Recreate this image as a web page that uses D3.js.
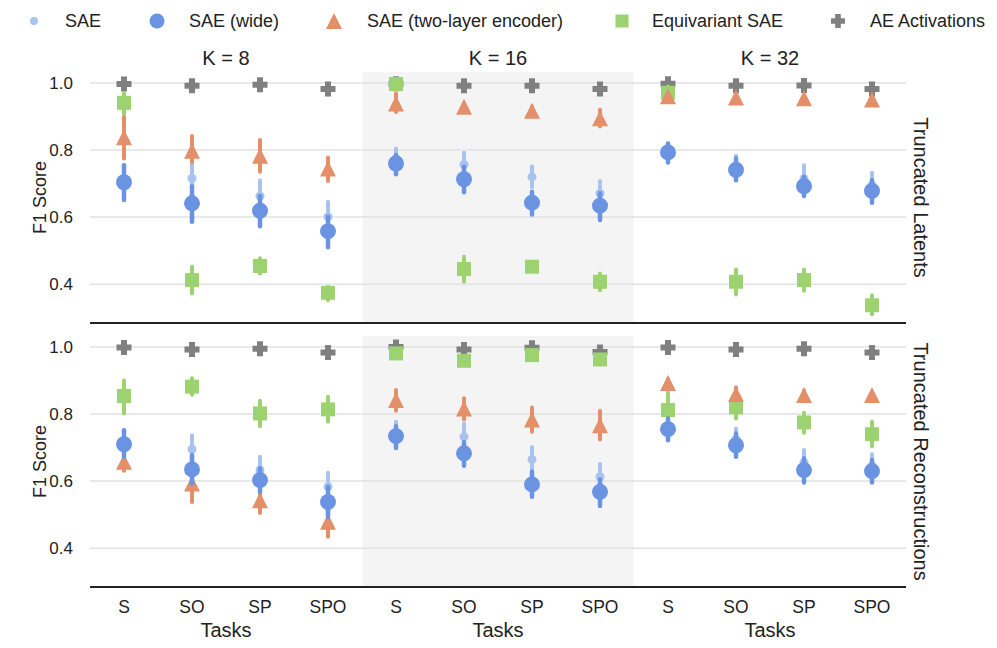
<!DOCTYPE html>
<html>
<head>
<meta charset="utf-8">
<script src="https://cdn.jsdelivr.net/npm/d3@7"></script>
<style>
  body { margin: 0; background: #fff; }
  svg { display: block; }
  text { font-family: "Liberation Sans", Arial, Helvetica, sans-serif; fill: #222; }
</style>
</head>
<body>
<svg id="chart" width="997" height="648"></svg>
<script>
// ---------------- DATA ----------------
const tasks = ["S", "SO", "SP", "SPO"];
const kValues = [8, 16, 32];
const rowLabels = ["Truncated Latents", "Truncated Reconstructions"];
const yTicks = [0.4, 0.6, 0.8, 1.0];
const seriesNames = ["SAE", "SAE (wide)", "SAE (two-layer encoder)", "Equivariant SAE", "AE Activations"];

// indexing: [row][k][task]
const saeMean = [
  [[0.712, 0.716, 0.663, 0.601], [0.775, 0.757, 0.720, 0.671], [0.795, 0.750, 0.715, 0.695]],
  [[0.715, 0.695, 0.633, 0.583], [0.745, 0.732, 0.665, 0.613], [0.758, 0.725, 0.655, 0.645]]
];
const saeLo = [
  [[0.680, 0.685, 0.610, 0.551], [0.750, 0.725, 0.689, 0.641], [0.770, 0.720, 0.680, 0.660]],
  [[0.680, 0.645, 0.593, 0.543], [0.715, 0.693, 0.628, 0.578], [0.730, 0.690, 0.620, 0.610]]
];
const saeHi = [
  [[0.755, 0.755, 0.710, 0.646], [0.805, 0.792, 0.752, 0.708], [0.820, 0.783, 0.755, 0.732]],
  [[0.745, 0.737, 0.673, 0.625], [0.777, 0.772, 0.702, 0.651], [0.785, 0.757, 0.693, 0.680]]
];

const wideMean = [
  [[0.704, 0.641, 0.619, 0.558], [0.760, 0.713, 0.643, 0.634], [0.793, 0.741, 0.692, 0.678]],
  [[0.710, 0.635, 0.603, 0.538], [0.734, 0.683, 0.590, 0.568], [0.755, 0.707, 0.633, 0.630]]
];
const wideLo = [
  [[0.651, 0.586, 0.573, 0.510], [0.728, 0.674, 0.608, 0.591], [0.763, 0.710, 0.663, 0.643]],
  [[0.673, 0.593, 0.568, 0.493], [0.699, 0.646, 0.553, 0.526], [0.722, 0.673, 0.596, 0.596]]
];
const wideHi = [
  [[0.755, 0.692, 0.663, 0.601], [0.785, 0.750, 0.676, 0.671], [0.820, 0.775, 0.720, 0.710]],
  [[0.752, 0.678, 0.638, 0.583], [0.764, 0.717, 0.628, 0.605], [0.787, 0.742, 0.668, 0.663]]
];

const twoLayerMean = [
  [[0.838, 0.798, 0.783, 0.745], [0.939, 0.929, 0.917, 0.895], [0.961, 0.957, 0.955, 0.951]],
  [[0.658, 0.593, 0.543, 0.479], [0.842, 0.817, 0.784, 0.767], [0.893, 0.860, 0.857, 0.857]]
];
const twoLayerLo = [
  [[0.775, 0.745, 0.735, 0.708], [0.914, 0.920, 0.905, 0.870], [0.955, 0.950, 0.948, 0.944]],
  [[0.631, 0.538, 0.505, 0.434], [0.810, 0.784, 0.747, 0.724], [0.880, 0.840, 0.845, 0.850]]
];
const twoLayerHi = [
  [[0.900, 0.842, 0.830, 0.778], [0.969, 0.940, 0.930, 0.920], [0.968, 0.964, 0.962, 0.958]],
  [[0.693, 0.643, 0.593, 0.528], [0.872, 0.847, 0.820, 0.810], [0.905, 0.880, 0.870, 0.865]]
];

const equivMean = [
  [[0.941, 0.412, 0.454, 0.374], [0.997, 0.445, 0.452, 0.407], [0.971, 0.407, 0.412, 0.337]],
  [[0.854, 0.882, 0.802, 0.814], [0.981, 0.959, 0.976, 0.963], [0.812, 0.820, 0.775, 0.740]]
];
const equivLo = [
  [[0.910, 0.372, 0.432, 0.352], [0.990, 0.407, 0.445, 0.382], [0.955, 0.369, 0.380, 0.310]],
  [[0.802, 0.858, 0.764, 0.777], [0.970, 0.950, 0.968, 0.955], [0.765, 0.787, 0.744, 0.704]]
];
const equivHi = [
  [[0.970, 0.452, 0.477, 0.392], [1.000, 0.482, 0.460, 0.432], [0.990, 0.444, 0.444, 0.367]],
  [[0.900, 0.907, 0.840, 0.852], [0.990, 0.968, 0.985, 0.972], [0.865, 0.850, 0.804, 0.777]]
];

const aeMean = [
  [[0.997, 0.992, 0.995, 0.982], [0.998, 0.992, 0.992, 0.982], [0.998, 0.992, 0.993, 0.982]],
  [[0.999, 0.993, 0.995, 0.984], [1.000, 0.993, 0.998, 0.985], [0.999, 0.993, 0.995, 0.984]]
];

// ---------------- STYLE / LAYOUT ----------------
const colors = {
  sae: "#a9c3f1",
  wide: "#6a94e2",
  two: "#e3906a",
  equiv: "#9cd370",
  ae: "#808080"
};
const plotX0 = 90, panelW = 272;
const rowY0 = [72, 336], panelH = 251;
const yDomain = [0.284, 1.033];
const FONT = '"Liberation Sans", Arial, Helvetica, sans-serif';

const svg = d3.select("#chart");

const y = d3.scaleLinear().domain(yDomain).range([panelH, 0]);

function markerPath(type, s) {
  const h = s / 2;
  if (type === "triangle") return `M0,${-h}L${h},${h}L${-h},${h}Z`;
  if (type === "square") return `M${-h},${-h}H${h}V${h}H${-h}Z`;
  if (type === "plus") {
    const a = s * 0.2;
    return `M${-a},${-h}H${a}V${-a}H${h}V${a}H${a}V${h}H${-a}V${a}H${-h}V${-a}H${-a}Z`;
  }
  return null;
}

// series in drawing order (bottom to top)
const seriesDefs = [
  { key: "ae", mean: aeMean, lo: null, hi: null, color: colors.ae, marker: "plus", size: 15, ew: 0 },
  { key: "equiv", mean: equivMean, lo: equivLo, hi: equivHi, color: colors.equiv, marker: "square", size: 14, ew: 4 },
  { key: "two", mean: twoLayerMean, lo: twoLayerLo, hi: twoLayerHi, color: colors.two, marker: "triangle", size: 16, ew: 4 },
  { key: "sae", mean: saeMean, lo: saeLo, hi: saeHi, color: colors.sae, marker: "circle", size: 9, ew: 4 },
  { key: "wide", mean: wideMean, lo: wideLo, hi: wideHi, color: colors.wide, marker: "circle", size: 16, ew: 4.5 }
];

rowLabels.forEach((rowLabel, r) => {
  kValues.forEach((k, c) => {
    const px = plotX0 + c * panelW;
    const py = rowY0[r];
    const g = svg.append("g").attr("transform", `translate(${px},${py})`);
    const x = d3.scaleBand().domain(tasks).range([0, panelW]).padding(0);

    if (c === 1) {
      g.append("rect").attr("x", 0.5).attr("y", 0).attr("width", panelW - 1).attr("height", panelH)
        .attr("fill", "#f4f4f4");
    }
    g.selectAll(".grid").data(yTicks).enter().append("line")
      .attr("x1", 0).attr("x2", panelW)
      .attr("y1", d => y(d)).attr("y2", d => y(d))
      .attr("stroke", "#e2e2e2").attr("stroke-width", 1.5);

    if (c === 0) {
      const axis = d3.axisLeft(y).tickValues(yTicks).tickFormat(d3.format(".1f")).tickSize(0).tickPadding(17);
      const ag = g.append("g").call(axis);
      ag.select(".domain").remove();
      ag.selectAll("text").style("font-family", FONT).style("font-size", "17px").attr("fill", "#222");
    }

    seriesDefs.forEach(s => {
      const cx = t => x(t) + x.bandwidth() / 2;
      if (s.lo) {
        g.selectAll(null).data(tasks).enter().append("line")
          .attr("x1", cx).attr("x2", cx)
          .attr("y1", (t, i) => y(s.lo[r][c][i]))
          .attr("y2", (t, i) => y(s.hi[r][c][i]))
          .attr("stroke", s.color).attr("stroke-width", s.ew).attr("stroke-linecap", "round");
      }
      if (s.marker === "circle") {
        g.selectAll(null).data(tasks).enter().append("circle")
          .attr("cx", cx).attr("cy", (t, i) => y(s.mean[r][c][i]))
          .attr("r", s.size / 2).attr("fill", s.color);
      } else {
        g.selectAll(null).data(tasks).enter().append("path")
          .attr("d", markerPath(s.marker, s.size))
          .attr("transform", (t, i) => `translate(${cx(t)},${y(s.mean[r][c][i])})`)
          .attr("fill", s.color);
      }
    });

    if (r === 0) {
      svg.append("text").attr("x", px + panelW / 2).attr("y", 65)
        .attr("text-anchor", "middle").style("font-size", "20px").text(`K = ${k}`);
    }
    if (r === 1) {
      const axis = d3.axisBottom(x).tickSize(0).tickPadding(14);
      const ag = svg.append("g").attr("transform", `translate(${px},${py + panelH})`).call(axis);
      ag.select(".domain").remove();
      ag.selectAll("text").style("font-family", FONT).style("font-size", "17.5px").attr("fill", "#222");
      svg.append("text").attr("x", px + panelW / 2).attr("y", 637)
        .attr("text-anchor", "middle").style("font-size", "20px").text("Tasks");
    }
  });

  svg.append("line").attr("x1", plotX0).attr("x2", plotX0 + 3 * panelW)
    .attr("y1", rowY0[r] + panelH).attr("y2", rowY0[r] + panelH)
    .attr("stroke", "#222").attr("stroke-width", 2);

  const cy = rowY0[r] + panelH / 2;
  svg.append("text").attr("transform", `translate(46,${cy}) rotate(-90)`)
    .attr("text-anchor", "middle").style("font-size", "18px").text("F1 Score");
  svg.append("text").attr("transform", `translate(914,${cy}) rotate(90)`)
    .attr("text-anchor", "middle").style("font-size", "20px").text(rowLabel);
});

// ---------------- LEGEND ----------------
const legendItems = [
  { name: seriesNames[0], color: colors.sae, marker: "circle", size: 8, mx: 34, tx: 65 },
  { name: seriesNames[1], color: colors.wide, marker: "circle", size: 15, mx: 157, tx: 189 },
  { name: seriesNames[2], color: colors.two, marker: "triangle", size: 16, mx: 334, tx: 367 },
  { name: seriesNames[3], color: colors.equiv, marker: "square", size: 13, mx: 622, tx: 652 },
  { name: seriesNames[4], color: colors.ae, marker: "plus", size: 14, mx: 838, tx: 870 }
];
const ly = 21;
const lg = svg.append("g");
legendItems.forEach(it => {
  if (it.marker === "circle") {
    lg.append("circle").attr("cx", it.mx).attr("cy", ly).attr("r", it.size / 2).attr("fill", it.color);
  } else {
    lg.append("path").attr("d", markerPath(it.marker, it.size))
      .attr("transform", `translate(${it.mx},${ly})`).attr("fill", it.color);
  }
  lg.append("text").attr("x", it.tx).attr("y", ly + 6).style("font-size", "18px").text(it.name);
});
</script>
</body>
</html>
